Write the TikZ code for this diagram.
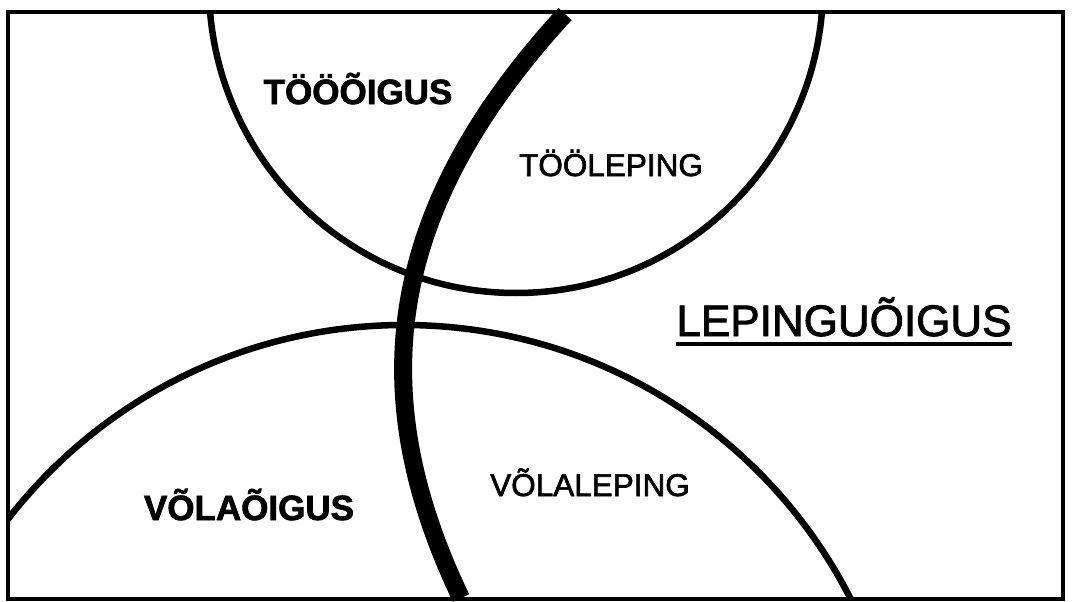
\documentclass[tikz,border=0pt]{standalone}
\usepackage{fontspec}
\setmainfont{Liberation Sans}[FakeBold=2]
\usetikzlibrary{positioning}

\begin{document}
\begin{tikzpicture}[
  x=1pt, y=-1pt,
  outerbox/.style={draw=black, line width=4pt},
  lawarea/.style={draw=black, line width=6.5pt},
  divline/.style={draw=black, line width=18pt, line cap=butt},
  lawbig/.style={inner sep=0pt, anchor=base, font=\fontsize{35}{40}\selectfont\bfseries},
  lawsmall/.style={inner sep=0pt, anchor=base, font=\fontsize{31.5}{36}\selectfont},
  headline/.style={inner sep=0pt, anchor=base, font=\fontsize{44}{50}\selectfont}
]
\useasboundingbox (0,0) rectangle (1072,602);

\coordinate (nw) at (8,12);
\coordinate (se) at (1063,599);

% the two areas, cut off by the box
\begin{scope}
  \clip (nw) rectangle (se);
  \draw[lawarea] (516,-14) circle (307);
  \draw[lawarea] (404,826) circle (501);
\end{scope}

\draw[outerbox] (nw) rectangle (se);

% dividing line
\coordinate (divtop) at (565,14);
\coordinate (divbot) at (461,598);
\draw[divline] (divtop) .. controls (381,214) and (365,398) .. (divbot);

\node[lawbig] (toooigus) at (358,104) {TÖÖÕIGUS};
\node[lawsmall] (tooleping) at (611,176) {TÖÖLEPING};
\node[headline] (lepinguoigus) at (844,336) {LEPINGUÕIGUS};
\node[lawbig] (volaoigus) at (249,520) {VÕLAÕIGUS};
\node[lawsmall] (volaleping) at (590,496) {VÕLALEPING};

\draw[line width=3.5pt] ([yshift=-8pt]lepinguoigus.base west) -- ([yshift=-8pt]lepinguoigus.base east);

\end{tikzpicture}
\end{document}
